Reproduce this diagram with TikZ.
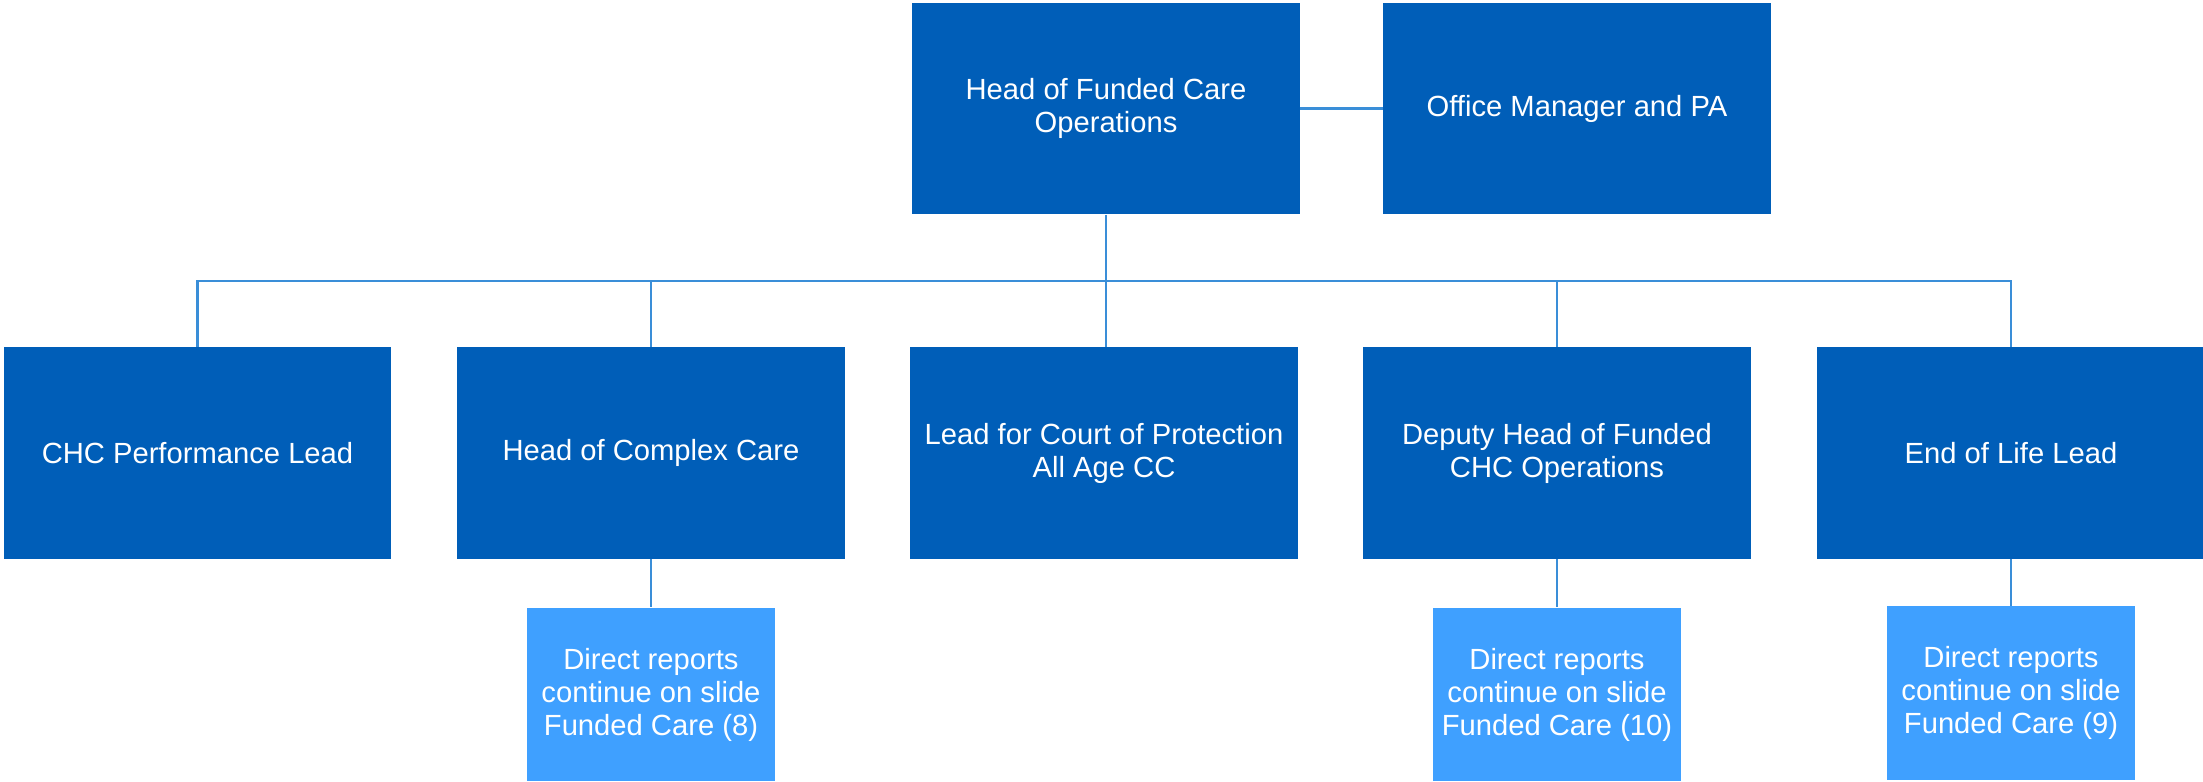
\documentclass[tikz,border=0pt]{standalone}
\usepackage{fontspec}
\setmainfont{Liberation Sans}
\usepackage{tikz}

\definecolor{darkbox}{HTML}{005EB8}
\definecolor{lightbox}{HTML}{3FA0FF}
\definecolor{linkblue}{HTML}{3A8ED8}

\begin{document}
\begin{tikzpicture}[x=0.01cm,y=-0.01cm,
  role/.style={fill=darkbox,text=white,draw=none,minimum width=3.87cm,minimum height=2.11cm,
    inner sep=0pt,align=center,font=\fontsize{8.3}{9.4}\selectfont},
  cont/.style={fill=lightbox,text=white,draw=none,minimum width=2.48cm,minimum height=1.73cm,
    inner sep=0pt,align=center,font=\fontsize{8.3}{9.4}\selectfont},
  link/.style={draw=linkblue,line width=0.6pt}]
\useasboundingbox (0,0) rectangle (2203,781);
% top
\node [role] (head) at (1106,108.5) {Head of Funded Care\\Operations};
\node [role] (pa) at (1577,108.5) {Office Manager and PA};
% second row
\node [role] (chc) at (197.5,453) {CHC Performance Lead};
\node [role] (cc) at (651,453) {Head of Complex Care};
\node [role] (cop) at (1104,453) {Lead for Court of Protection\\All Age CC};
\node [role] (dep) at (1557,453) {Deputy Head of Funded\\CHC Operations};
\node [role] (eol) at (2011,453) {End of Life Lead};
% continuation boxes
\node [cont] (cc8) at (651,694.5) {Direct reports\\continue on slide\\Funded Care (8)};
\node [cont] (dep10) at (1557,694.5) {Direct reports\\continue on slide\\Funded Care (10)};
\node [cont] (eol9) at (2011,693) {Direct reports\\continue on slide\\Funded Care (9)};
\coordinate (bus) at (1106,281);
% lines
\draw [link] (head) -- (pa);
\draw [link] (head.south) -- (bus);
\draw [link] (chc.north) |- (bus) -| (eol.north);
\draw [link] (bus) -- (bus |- cop.north);
\draw [link] (cc.north) -- (cc.north |- bus);
\draw [link] (dep.north) -- (dep.north |- bus);
\draw [link] (cc.south) -- (cc8.north);
\draw [link] (dep.south) -- (dep10.north);
\draw [link] (eol.south) -- (eol9.north);
\end{tikzpicture}
\end{document}
